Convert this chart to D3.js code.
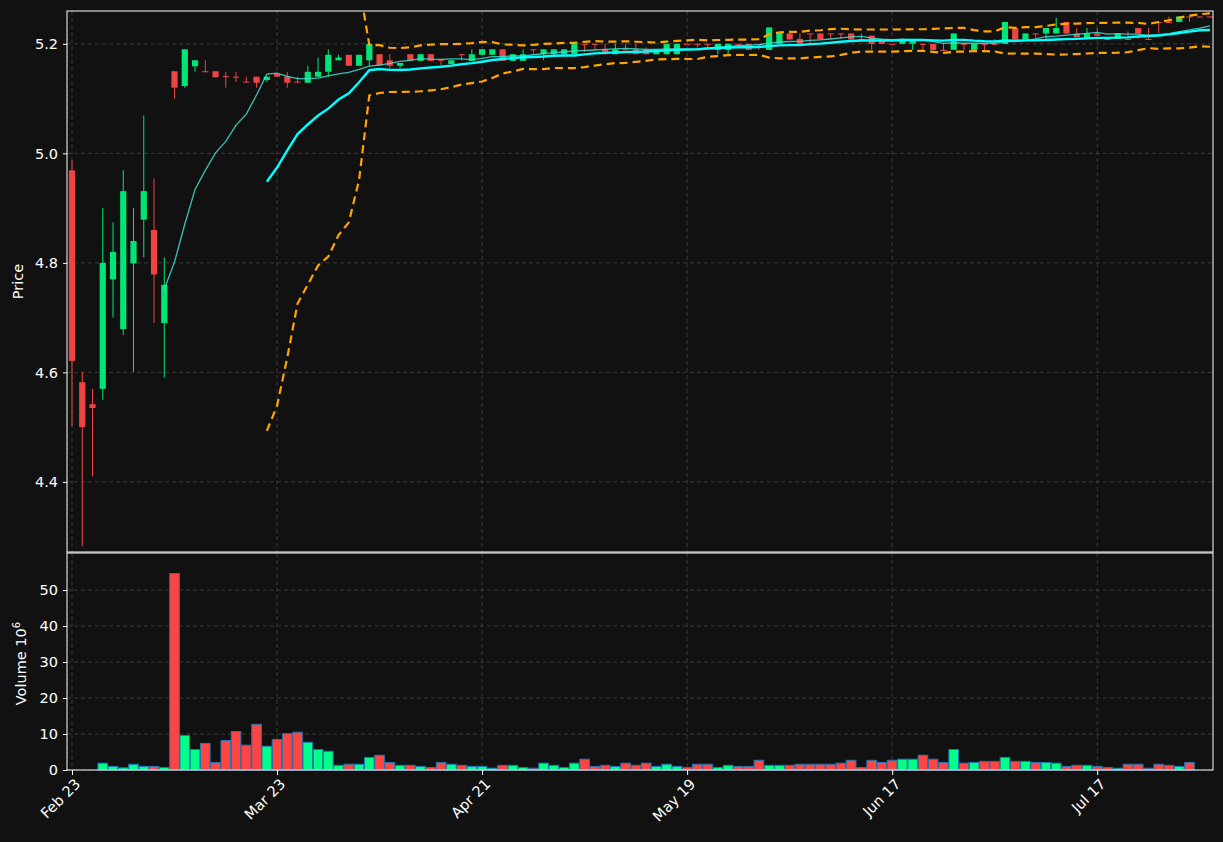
<!DOCTYPE html>
<html><head><meta charset="utf-8">
<script src="https://cdn.jsdelivr.net/npm/d3@7"></script>
<style>body{margin:0;background:#111111;}svg{display:block;font-family:"DejaVu Sans",sans-serif;}</style>
</head><body><svg id="c" width="1223" height="842"></svg>
<script>
const tickLabels=["Feb 23","Mar 23","Apr 21","May 19","Jun 17","Jul 17"];
const tickIndex=[0,20,40,60,80,100];
const open=[4.969,4.582,4.542,4.570,4.770,4.679,4.799,4.879,4.860,4.690,5.150,5.123,5.159,5.150,5.150,5.141,5.140,5.131,5.140,5.134,5.145,5.140,5.131,5.129,5.140,5.149,5.170,5.180,5.160,5.170,5.181,5.170,5.160,5.181,5.169,5.181,5.171,5.163,5.181,5.169,5.180,5.180,5.190,5.169,5.169,5.190,5.181,5.181,5.181,5.181,5.200,5.200,5.190,5.181,5.190,5.190,5.190,5.181,5.181,5.181,5.200,5.200,5.200,5.189,5.189,5.200,5.200,5.200,5.189,5.200,5.219,5.209,5.219,5.219,5.219,5.219,5.219,5.209,5.215,5.209,5.200,5.200,5.200,5.200,5.200,5.189,5.189,5.200,5.189,5.200,5.200,5.200,5.229,5.208,5.219,5.219,5.219,5.240,5.219,5.209,5.219,5.209,5.209,5.209,5.229,5.209,5.240,5.240,5.240,5.250,5.250,5.250];
const high=[4.988,4.601,4.570,4.900,4.874,4.969,4.900,5.069,4.954,4.810,5.150,5.190,5.170,5.170,5.150,5.149,5.149,5.140,5.140,5.140,5.147,5.149,5.140,5.160,5.175,5.190,5.180,5.180,5.180,5.200,5.181,5.181,5.165,5.181,5.181,5.181,5.171,5.170,5.181,5.190,5.190,5.190,5.190,5.181,5.190,5.190,5.190,5.190,5.190,5.200,5.200,5.200,5.200,5.200,5.200,5.200,5.194,5.190,5.200,5.200,5.200,5.200,5.200,5.200,5.200,5.200,5.200,5.200,5.230,5.220,5.219,5.219,5.219,5.219,5.219,5.219,5.219,5.219,5.215,5.209,5.200,5.209,5.209,5.200,5.200,5.200,5.219,5.200,5.200,5.200,5.209,5.240,5.229,5.219,5.219,5.229,5.248,5.240,5.229,5.229,5.229,5.209,5.219,5.223,5.229,5.229,5.240,5.250,5.250,5.250,5.250,5.250];
const low=[4.502,4.282,4.410,4.550,4.700,4.668,4.601,4.810,4.690,4.591,5.100,5.120,5.149,5.149,5.139,5.120,5.130,5.130,5.120,5.130,5.140,5.120,5.130,5.129,5.140,5.140,5.170,5.160,5.160,5.160,5.161,5.150,5.155,5.169,5.169,5.169,5.160,5.163,5.170,5.169,5.180,5.180,5.169,5.169,5.169,5.181,5.170,5.176,5.181,5.181,5.185,5.189,5.181,5.181,5.189,5.181,5.181,5.181,5.181,5.181,5.199,5.193,5.193,5.181,5.181,5.197,5.189,5.189,5.189,5.200,5.208,5.200,5.200,5.208,5.209,5.209,5.208,5.208,5.189,5.200,5.199,5.200,5.189,5.189,5.189,5.188,5.189,5.189,5.189,5.185,5.199,5.200,5.208,5.208,5.209,5.209,5.219,5.219,5.212,5.209,5.215,5.208,5.209,5.208,5.209,5.208,5.219,5.239,5.240,5.240,5.249,5.249];
const close=[4.621,4.500,4.535,4.800,4.820,4.931,4.840,4.931,4.779,4.760,5.120,5.190,5.170,5.149,5.139,5.140,5.139,5.130,5.129,5.140,5.140,5.129,5.130,5.149,5.149,5.180,5.175,5.160,5.180,5.200,5.161,5.160,5.165,5.169,5.181,5.169,5.170,5.170,5.180,5.181,5.190,5.190,5.169,5.181,5.181,5.189,5.190,5.190,5.190,5.200,5.199,5.199,5.181,5.190,5.189,5.181,5.181,5.190,5.200,5.200,5.199,5.199,5.199,5.200,5.200,5.199,5.189,5.199,5.230,5.220,5.208,5.200,5.218,5.208,5.218,5.218,5.208,5.208,5.200,5.200,5.199,5.209,5.209,5.199,5.189,5.188,5.219,5.199,5.200,5.199,5.199,5.240,5.208,5.219,5.218,5.229,5.229,5.219,5.212,5.219,5.215,5.208,5.219,5.208,5.219,5.208,5.239,5.239,5.250,5.249,5.249,5.249];
const volume=[0,0,0,1.9,1.0,0.6,1.6,1.0,1.0,0.7,54.6,9.6,5.7,7.4,2.1,8.2,10.7,6.9,12.7,6.6,8.5,10.1,10.5,7.7,5.7,5.2,1.3,1.6,1.6,3.5,4.1,2.1,1.3,1.3,1.0,0.7,2.1,1.6,1.3,1.0,1.0,0.5,1.3,1.3,0.7,0.5,1.9,1.3,0.7,1.9,3.0,1.0,1.3,1.0,1.9,1.3,1.9,1.0,1.6,1.0,0.7,1.6,1.6,0.7,1.3,1.0,1.0,2.7,1.3,1.3,1.3,1.6,1.6,1.6,1.6,1.9,2.7,0.7,2.7,2.1,2.7,3.0,3.0,4.1,3.0,2.1,5.7,1.9,2.1,2.4,2.4,3.5,2.4,2.4,2.1,2.1,1.9,1.0,1.3,1.3,1.0,0.7,0.5,1.6,1.6,0.5,1.6,1.3,1.0,2.1,0,0];

const svg=d3.select("#c");
const L=67,R=1213,T=11,PB=552,VT=553,VB=770;
const n=close.length;
const x=d3.scaleLinear().domain([0,111]).range([72,1210]);
const y=d3.scaleLinear().domain([4.272,5.26]).range([PB,T]);
const yv=d3.scaleLinear().domain([0,60.3]).range([VB,VT]);
const grid="#3a3a3a";
const GREEN="#00e676",RED="#ef4444";
const up=i=>close[i]>=open[i];

const gp=svg.append("g");
[4.4,4.6,4.8,5.0,5.2].forEach(v=>gp.append("line").attr("x1",L).attr("x2",R).attr("y1",y(v)).attr("y2",y(v)).attr("stroke",grid).attr("stroke-dasharray","4,3"));
[0,10,20,30,40,50].forEach(v=>gp.append("line").attr("x1",L).attr("x2",R).attr("y1",yv(v)).attr("y2",yv(v)).attr("stroke",grid).attr("stroke-dasharray","4,3"));
tickIndex.forEach(i=>{gp.append("line").attr("x1",x(i)).attr("x2",x(i)).attr("y1",T).attr("y2",PB).attr("stroke",grid).attr("stroke-dasharray","4,3");
 gp.append("line").attr("x1",x(i)).attr("x2",x(i)).attr("y1",VT).attr("y2",VB).attr("stroke",grid).attr("stroke-dasharray","4,3");});

svg.append("clipPath").attr("id","cp").append("rect").attr("x",L).attr("y",T).attr("width",R-L).attr("height",PB-T);
const pg=svg.append("g").attr("clip-path","url(#cp)");

const idx=d3.range(n);
pg.selectAll(".w").data(idx).join("line").attr("x1",i=>x(i)).attr("x2",i=>x(i)).attr("y1",i=>y(high[i])).attr("y2",i=>y(low[i])).attr("stroke",i=>up(i)?GREEN:RED).attr("stroke-width",1);
pg.selectAll(".b").data(idx).join("rect").attr("x",i=>x(i)-3.1).attr("width",6.2)
 .attr("y",i=>y(Math.max(open[i],close[i]))).attr("height",i=>Math.max(1,Math.abs(y(open[i])-y(close[i])))).attr("fill",i=>up(i)?GREEN:RED);

function sma(p){return idx.map(i=>i<p-1?null:d3.mean(close.slice(i-p+1,i+1)));}
function sd(p){return idx.map(i=>i<p-1?null:d3.deviation(close.slice(i-p+1,i+1)));}
const ma10=sma(10),ma20=sma(20),s20=sd(20);
const upper=idx.map(i=>ma20[i]==null?null:ma20[i]+2*s20[i]);
const lower=idx.map(i=>ma20[i]==null?null:ma20[i]-2*s20[i]);
const line=arr=>d3.line().defined(i=>arr[i]!=null).x(i=>x(i)).y(i=>y(arr[i]))(idx);
pg.append("path").attr("d",line(ma10)).attr("fill","none").attr("stroke","#40e0d0").attr("stroke-opacity",0.85).attr("stroke-width",1.3);
pg.append("path").attr("d",line(ma20)).attr("fill","none").attr("stroke","#00ffff").attr("stroke-width",2.4);
pg.append("path").attr("d",line(upper)).attr("fill","none").attr("stroke","#ffa500").attr("stroke-width",2.2).attr("stroke-dasharray","8,5");
pg.append("path").attr("d",line(lower)).attr("fill","none").attr("stroke","#ffa500").attr("stroke-width",2.2).attr("stroke-dasharray","8,5");

svg.append("g").selectAll("rect").data(idx).join("rect")
 .attr("x",i=>x(i)-4.8).attr("width",9.6).attr("y",i=>yv(volume[i])).attr("height",i=>yv(0)-yv(volume[i]))
 .attr("fill",i=>up(i)?"#00ff88":"#ff4444").attr("stroke","#1f77b4").attr("stroke-width",1);

svg.append("rect").attr("x",L).attr("y",T).attr("width",R-L).attr("height",PB-T).attr("fill","none").attr("stroke","#fff");
svg.append("rect").attr("x",L).attr("y",VT).attr("width",R-L).attr("height",VB-VT).attr("fill","none").attr("stroke","#fff");

const ya=svg.append("g").attr("transform",`translate(${L},0)`).call(d3.axisLeft(y).tickValues([4.4,4.6,4.8,5.0,5.2]).tickFormat(d3.format(".1f")).tickSize(4).tickPadding(5));
const va=svg.append("g").attr("transform",`translate(${L},0)`).call(d3.axisLeft(yv).tickValues([0,10,20,30,40,50]).tickSize(4).tickPadding(5));
const xa=svg.append("g").attr("transform",`translate(0,${VB})`).call(d3.axisBottom(x).tickValues(tickIndex).tickFormat((d,k)=>tickLabels[k]).tickSize(5));
[ya,va,xa].forEach(g=>{g.select(".domain").remove();g.selectAll("line").attr("stroke","#fff");g.selectAll("text").attr("fill","#fff").attr("font-size",14.5).attr("font-family","DejaVu Sans");});
xa.selectAll("text").attr("text-anchor","end").attr("dx","-0.3em").attr("dy","0.6em").attr("transform","rotate(-45)");

svg.append("text").attr("transform",`translate(23,${(T+PB)/2}) rotate(-90)`).attr("text-anchor","middle").attr("fill","#fff").attr("font-size",14.5).text("Price");
const vt=svg.append("text").attr("transform",`translate(26,${(VT+VB)/2+2}) rotate(-90)`).attr("text-anchor","middle").attr("fill","#fff").attr("font-size",14.5);
vt.append("tspan").text("Volume  10");
vt.append("tspan").attr("dy","-6").attr("font-size",10).text("6");
</script></body></html>
